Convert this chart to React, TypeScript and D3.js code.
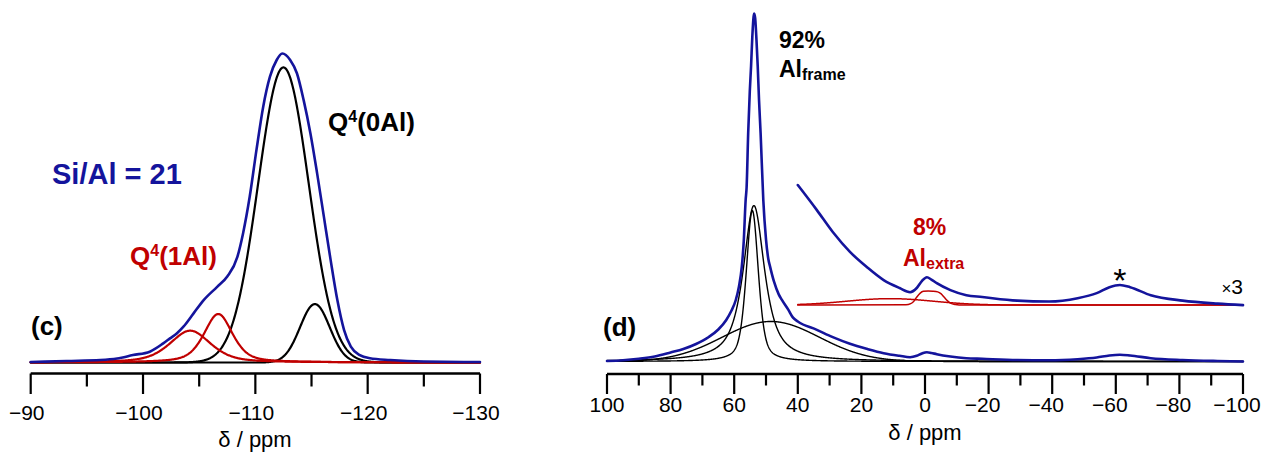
import React from 'react';
import * as d3 from 'd3';

const W = 1265;
const H = 455;

const BLUE = '#14149c';
const RED = '#c00000';
const FONT = '"Liberation Sans", Arial, Helvetica, sans-serif';

// ---- (c) 29Si MAS NMR: measured spectrum (ppm, a.u.) ----
const siShift = [
  -90, -93.2, -96.2, -97.7, -99.1, -100.6, -101.8, -102.4, -103.0, -103.6,
  -104.5, -105.4, -106.6, -107.5, -108.4, -108.9, -109.5, -110.1, -110.7, -111.3,
  -111.9, -112.4, -113.1, -113.7, -114.3, -114.9, -115.5, -116.1, -116.7, -117.3,
  -117.9, -118.5, -119.3, -120.2, -122, -125, -130,
];
const siIntensity = [
  0.16, 0.5, 0.8, 1.3, 2.4, 3.5, 6.2, 7.8, 9.4, 11.6,
  15.9, 20.2, 24.5, 27.8, 34.2, 41.7, 53.7, 68.8, 82.8, 92.5,
  97.9, 100, 97.9, 93.6, 84.9, 74.2, 61.2, 47.2, 33.2, 20.2,
  10.5, 5.1, 2.4, 1.4, 0.8, 0.3, 0.16,
];

// ---- (c) deconvolution: pseudo-Voigt components ----
const siFitSite = ['0Al', '0Al', '1Al', '1Al'];
const siFitCenter = [-112.5, -115.3, -104.2, -106.7];
const siFitHeight = [95.5, 18.9, 10.3, 15.7];
const siFitWidth = [5.3, 3.1, 4.3, 3.0];
const siFitLorentz = [0, 0, 0.5, 0.5];

const siTicksMajor = [-90, -100, -110, -120, -130];
const siTicksMinor = [-95, -105, -115, -125];

// ---- (d) 27Al MAS NMR: measured spectrum (ppm, a.u.) ----
const alShift = [
  100, 95, 90, 85, 80, 76, 72, 68, 65, 62.5,
  61, 59.5, 58.5, 57.6, 57, 56.4, 56.1, 55.6, 55.1, 54.7,
  54.3, 53.9, 53.7, 53.4, 53, 52.6, 52.2, 51.7, 50.85, 50,
  49.3, 48.7, 47.5, 46, 45, 43, 41.5, 40, 34, 29,
  23.6, 18.3, 13, 8, 4.7, 2.6, 1, -0.6, -2, -3.7,
  -8, -13, -18, -29, -39, -48, -54, -58, -61.3, -64.5,
  -71, -81, -92, -100,
];
const alIntensity = [
  0.14, 0.37, 0.8, 1.44, 2.59, 3.59, 5.03, 7.04, 9.2, 11.93,
  14.37, 17.67, 21.55, 27.3, 34.5, 46.4, 50.0, 65.7, 77.6, 84.8,
  93.4, 99.1, 100, 98.6, 92.5, 84.8, 75.3, 65.7, 46.4, 35.1,
  29.6, 27.2, 23.0, 19.3, 17.7, 14.9, 12.6, 11.5, 9.1, 7.0,
  5.1, 3.65, 2.4, 1.64, 1.24, 1.64, 2.3, 2.67, 2.45, 2.1,
  1.44, 0.95, 0.78, 0.43, 0.34, 0.66, 1.15, 1.72, 1.93, 1.72,
  0.95, 0.43, 0.14, 0,
];

// vertical expansion of the low-intensity region
const alExpandFrom = 40;
const alExpandFactor = 3;
const alExpandOffset = 16.2;

// ---- (d) framework Al components ----
const alFitCenter = [53.8, 54.3, 48.5];
const alFitHeight = [44.8, 43.4, 11.5];
const alFitWidth = [8, 4.5, 36];
const alFitLorentz = [0.85, 0.5, 0];

// ---- (d) extra-framework Al components (expanded trace) ----
const alExtraBroad = { center: 11, height: 0.62, width: 32, lorentz: 0 };
const alExtraNarrowShift = [40, 6, 4.5, 3.5, 2.5, 1.5, 0.5, -1, -2.5, -4, -5, -6, -7, -8, -9.5, -12, -100];
const alExtraNarrowIntensity = [0, 0.03, 0.14, 0.38, 0.81, 1.15, 1.32, 1.36, 1.34, 1.27, 1.1, 0.77, 0.43, 0.19, 0.06, 0, 0];

const alTicksMajor = [100, 80, 60, 40, 20, 0, -20, -40, -60, -80, -100];
const alTicksMinor = [90, 70, 50, 30, 10, -10, -30, -50, -70, -90];

const pseudoVoigt = (x: number, c: number, h: number, w: number, eta: number) => {
  const t = (x - c) / w;
  return h * (eta / (1 + 4 * t * t) + (1 - eta) * Math.exp(-4 * Math.LN2 * t * t));
};

const fmt = (v: number) => (v < 0 ? '\u2212' + Math.abs(v) : String(v));

export default function App() {
  const xL = d3.scaleLinear().domain([-90, -130]).range([30.7, 480]);
  const yL = d3.scaleLinear().domain([0, 100]).range([362.5, 53.5]);
  const xR = d3.scaleLinear().domain([100, -100]).range([607, 1243]);
  const yR = d3.scaleLinear().domain([0, 100]).range([361.5, 13.5]);
  const yRx = (v: number) => yR(alExpandOffset + alExpandFactor * v);

  const lineL = d3.line<[number, number]>().x(d => xL(d[0])).y(d => yL(d[1]));
  const lineLsmooth = d3.line<[number, number]>().x(d => xL(d[0])).y(d => yL(d[1])).curve(d3.curveMonotoneX);
  const lineR = d3.line<[number, number]>().x(d => xR(d[0])).y(d => yR(d[1]));
  const lineRsmooth = d3.line<[number, number]>().x(d => xR(d[0])).y(d => yR(d[1])).curve(d3.curveMonotoneX);
  const lineRx = d3.line<[number, number]>().x(d => xR(d[0])).y(d => yRx(d[1]));
  const lineRxSmooth = d3.line<[number, number]>().x(d => xR(d[0])).y(d => yRx(d[1])).curve(d3.curveMonotoneX);

  const siGrid = d3.range(-90, -130.0001, -0.05);
  const alGrid = d3.range(100, -100.0001, -0.1);
  const alGridExp = d3.range(alExpandFrom, -100.0001, -0.1);

  const siMeasured = siShift.map((s, i) => [s, siIntensity[i]] as [number, number]);
  const alMeasured = alShift.map((s, i) => [s, alIntensity[i]] as [number, number]);
  const alMeasuredExp = alMeasured.filter(d => d[0] <= alExpandFrom);

  const siFits = siFitCenter.map((c, i) => ({
    site: siFitSite[i],
    pts: siGrid.map(x => [x, pseudoVoigt(x, c, siFitHeight[i], siFitWidth[i], siFitLorentz[i])] as [number, number]),
  }));
  const alFits = alFitCenter.map((c, i) =>
    alGrid.map(x => [x, pseudoVoigt(x, c, alFitHeight[i], alFitWidth[i], alFitLorentz[i])] as [number, number]),
  );
  const alBroad = alGridExp.map(
    x => [x, pseudoVoigt(x, alExtraBroad.center, alExtraBroad.height, alExtraBroad.width, alExtraBroad.lorentz)] as [number, number],
  );
  const alNarrow = alExtraNarrowShift.map((s, i) => [s, alExtraNarrowIntensity[i]] as [number, number]);

  const axisY_L = 373.5;
  const axisY_R = 374;

  return (
    <svg width={W} height={H} style={{ position: 'absolute', left: 0, top: 0, background: '#fff' }} fontFamily={FONT}>
      {/* ===== (c) ===== */}
      <g fill="none" strokeLinejoin="round" strokeLinecap="round">
        {siFits.filter(f => f.site === '0Al').map((f, i) => (
          <path key={'k' + i} d={lineL(f.pts) || ''} stroke="#000" strokeWidth={2.2} />
        ))}
        {siFits.filter(f => f.site === '1Al').map((f, i) => (
          <path key={'r' + i} d={lineL(f.pts) || ''} stroke={RED} strokeWidth={2.2} />
        ))}
        <path d={lineLsmooth(siMeasured) || ''} stroke={BLUE} strokeWidth={2.6} />
      </g>

      {/* x axis (c) */}
      <line x1={xL(-90)} x2={xL(-130)} y1={axisY_L} y2={axisY_L} stroke="#000" strokeWidth={2.6} />
      {siTicksMajor.map(t => (
        <line key={'cM' + t} x1={xL(t)} x2={xL(t)} y1={axisY_L} y2={394} stroke="#000" strokeWidth={2.2} />
      ))}
      {siTicksMinor.map(t => (
        <line key={'cm' + t} x1={xL(t)} x2={xL(t)} y1={axisY_L} y2={386.5} stroke="#000" strokeWidth={2.2} />
      ))}
      {siTicksMajor.map(t => (
        <text key={'cl' + t} x={xL(t)} dx={-4} y={420} fontSize={21} textAnchor="middle" fill="#000">
          {fmt(t)}
        </text>
      ))}
      <text x={255} y={447} fontSize={22} textAnchor="middle" fill="#000">δ / ppm</text>

      <text x={52} y={184} fontSize={29} fontWeight="bold" fill={BLUE}>Si/Al = 21</text>
      <text x={328} y={131} fontSize={26} fontWeight="bold" fill="#000">
        Q<tspan fontSize={16} dy={-9.5}>4</tspan><tspan dy={9.5}>(0Al)</tspan>
      </text>
      <text x={130} y={265} fontSize={26} fontWeight="bold" fill={RED}>
        Q<tspan fontSize={16} dy={-9.5}>4</tspan><tspan dy={9.5}>(1Al)</tspan>
      </text>
      <text x={31} y={335} fontSize={26} fontWeight="bold" fill="#000">(c)</text>

      {/* ===== (d) ===== */}
      <g fill="none" strokeLinejoin="round" strokeLinecap="round">
        {alFits.map((pts, i) => (
          <path key={'ak' + i} d={lineR(pts) || ''} stroke="#000" strokeWidth={1.4} />
        ))}
        <path d={lineRsmooth(alMeasured) || ''} stroke={BLUE} strokeWidth={2.6} />
        <path d={lineRx(alBroad) || ''} stroke={RED} strokeWidth={1.5} />
        <path d={lineRxSmooth(alNarrow) || ''} stroke={RED} strokeWidth={1.5} />
        <path d={lineRxSmooth(alMeasuredExp) || ''} stroke={BLUE} strokeWidth={2.6} />
      </g>

      {/* x axis (d) */}
      <line x1={xR(100)} x2={xR(-100)} y1={axisY_R} y2={axisY_R} stroke="#000" strokeWidth={2.6} />
      {alTicksMajor.map(t => (
        <line key={'dM' + t} x1={xR(t)} x2={xR(t)} y1={axisY_R} y2={394} stroke="#000" strokeWidth={2.2} />
      ))}
      {alTicksMinor.map(t => (
        <line key={'dm' + t} x1={xR(t)} x2={xR(t)} y1={axisY_R} y2={385.5} stroke="#000" strokeWidth={2.2} />
      ))}
      {alTicksMajor.map(t => (
        <text key={'dl' + t} x={xR(t)} dx={t < 0 ? -6 : 0} y={412} fontSize={21} textAnchor="middle" fill="#000">
          {fmt(t)}
        </text>
      ))}
      <text x={925} y={440} fontSize={22} textAnchor="middle" fill="#000">δ / ppm</text>

      <text x={603} y={336} fontSize={26} fontWeight="bold" fill="#000">(d)</text>
      <text x={779} y={48} fontSize={23} fontWeight="bold" fill="#000">92%</text>
      <text x={779} y={77} fontSize={23} fontWeight="bold" fill="#000">
        Al<tspan fontSize={16} dy={3}>frame</tspan>
      </text>
      <text x={913} y={235} fontSize={23} fontWeight="bold" fill={RED}>8%</text>
      <text x={903} y={266} fontSize={23} fontWeight="bold" fill={RED}>
        Al<tspan fontSize={16} dy={3}>extra</tspan>
      </text>
      <text x={xR(-61.3)} y={292} fontSize={34} textAnchor="middle" fill="#000">*</text>
      <text x={1243} y={294} textAnchor="end" fill="#000">
        <tspan fontSize={17}>×</tspan><tspan fontSize={21}>3</tspan>
      </text>
    </svg>
  );
}
